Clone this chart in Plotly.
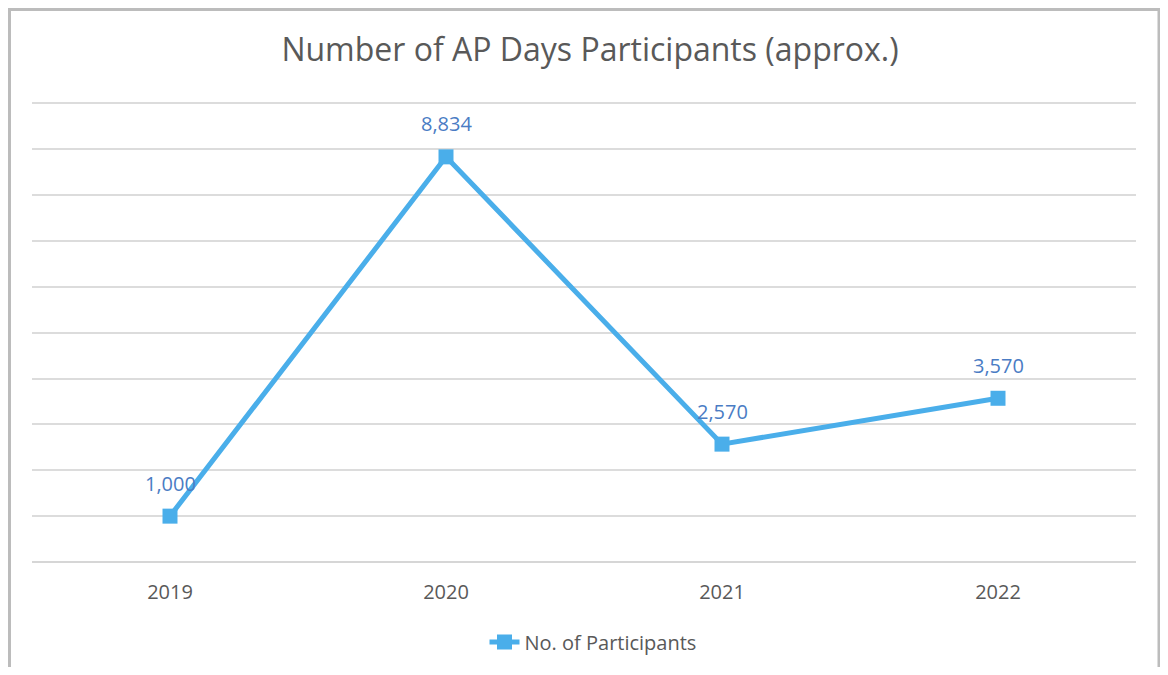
import plotly.graph_objects as go

# ---------------------------------------------------------------------------
# Data
# ---------------------------------------------------------------------------
years = ["2019", "2020", "2021", "2022"]
participants = [1000, 8834, 2570, 3570]
labels = [f"{v:,}" for v in participants]

# the page body has an 8px margin, so the figure is a bit smaller than the window
OFF = 8
W, H = 1152, 659
M_L, M_R, M_T, M_B = 24, 24, 94, 105
PW = W - M_L - M_R
PH = H - M_T - M_B


def px_x(x):
    """page pixel x -> paper x"""
    return (x - OFF - M_L) / PW


def px_y(y):
    """page pixel y -> paper y"""
    return (H - M_B - (y - OFF)) / PH


FONT = "Open Sans"
LINE_BLUE = "#4aaeea"
LABEL_BLUE = "#4a7cc4"
GREY_TEXT = "#595959"

fig = go.Figure()

fig.add_trace(go.Scatter(
    x=years,
    y=participants,
    mode="lines+markers",
    name="No. of Participants",
    line=dict(color=LINE_BLUE, width=5),
    marker=dict(symbol="square", size=15, color=LINE_BLUE),
    cliponaxis=False,
))

# data labels above each point (category index on the x axis)
for i, (val, lab) in enumerate(zip(participants, labels)):
    fig.add_annotation(
        x=i, y=val, xref="x", yref="y",
        text=lab, showarrow=False,
        yanchor="middle", yshift=33,
        font=dict(family=FONT, size=20, color=LABEL_BLUE),
    )

# card frame behind the chart
fig.add_shape(
    type="rect", xref="paper", yref="paper",
    x0=px_x(9.5), x1=px_x(1159), y0=px_y(700), y1=px_y(9.5),
    fillcolor="white", line=dict(color="#bcbcbc", width=3),
    layer="below",
)

fig.update_layout(
    width=W,
    height=H,
    margin=dict(l=M_L, r=M_R, t=M_T, b=M_B, autoexpand=False),
    paper_bgcolor="#e6e6e6",
    plot_bgcolor="rgba(0,0,0,0)",
    title=dict(
        text="Number of AP Days Participants (approx.)",
        x=px_x(590), xanchor="center", xref="paper",
        y=1 - (50 - OFF) / H, yanchor="middle",
        font=dict(family=FONT, size=32, color=GREY_TEXT),
    ),
    xaxis=dict(
        type="category",
        range=[-0.5, 3.5],
        showgrid=False,
        showline=False,
        ticks="",
        ticklabelstandoff=16,
        tickfont=dict(family=FONT, size=20, color=GREY_TEXT),
    ),
    yaxis=dict(
        range=[0, 10030],
        dtick=1000,
        showticklabels=False,
        gridcolor="#dcdcdc",
        gridwidth=2,
        zeroline=True,
        zerolinecolor="#d6d6d6",
        zerolinewidth=2,
        showline=False,
    ),
    showlegend=True,
    legend=dict(
        orientation="h",
        x=px_x(593), xanchor="center",
        y=px_y(642), yanchor="middle",
        font=dict(family=FONT, size=20, color=GREY_TEXT),
        bgcolor="rgba(0,0,0,0)",
    ),
)

fig.write_html("out.html")
